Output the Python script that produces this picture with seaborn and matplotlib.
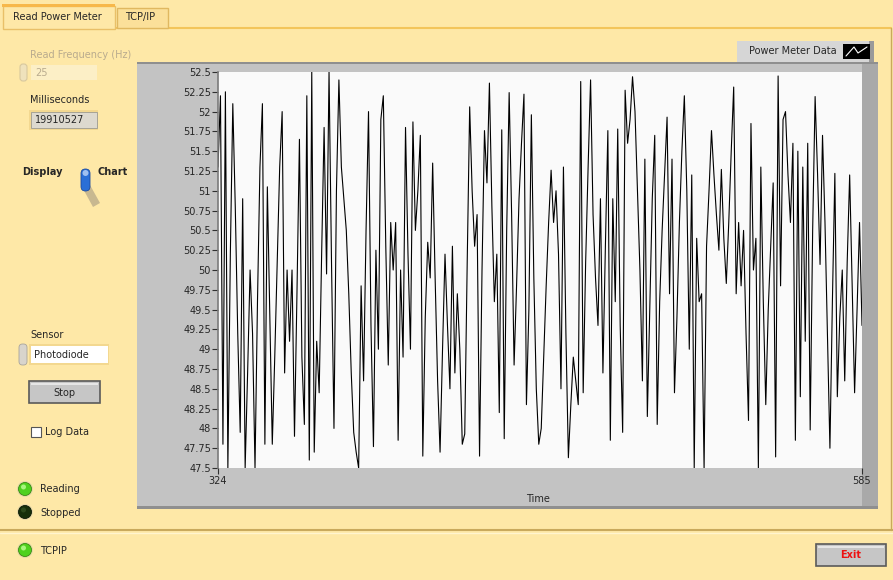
import numpy as np
import matplotlib
matplotlib.use("Agg")
import matplotlib.pyplot as plt
import seaborn as sns
from matplotlib.patches import Rectangle, Circle, FancyBboxPatch, Polygon

# -----------------------------
# DATA
# -----------------------------
t_start = 324
t_end = 585

power = [
    51.3, 52.2, 47.8, 52.25, 47.5, 50.2, 52.1, 50.8, 49.2, 47.95,
    50.9, 47.5, 48.7, 50.0, 49.2, 47.5, 49.6, 51.3, 52.1, 47.8,
    51.05, 49.4, 47.8, 48.9, 50.1, 51.3, 52.0, 48.7, 50.0, 49.1,
    50.0, 47.9, 49.7, 51.65, 48.9, 48.05, 52.2, 47.6, 52.5, 47.7,
    49.1, 48.45, 50.2, 51.8, 49.95, 52.5, 50.1, 48.0, 51.0, 52.4,
    51.3, 50.9, 50.5, 49.7, 48.7, 47.95, 47.7, 47.5, 49.8, 48.6,
    50.5, 52.0, 49.3, 47.77, 50.25, 49.0, 51.9, 52.2, 50.3, 48.8,
    50.6, 50.0, 50.6, 47.85, 50.0, 48.9, 51.8, 50.2, 49.0, 51.87,
    50.5, 51.0, 51.7, 47.65, 49.4, 50.35, 49.9, 51.35, 49.9, 48.6,
    47.7, 49.0, 50.2, 49.3, 48.5, 50.3, 48.7, 49.7, 49.0, 47.8,
    47.93, 50.1, 52.06, 51.0, 50.3, 50.7, 47.65, 50.0, 51.76, 51.1,
    52.36, 50.8, 49.6, 50.2, 48.2, 51.77, 47.87, 50.5, 52.24, 50.7,
    48.8, 49.8, 50.9, 51.6, 52.22, 48.3, 49.5, 51.96, 49.9, 48.5,
    47.8, 48.0, 48.9, 49.8, 50.6, 51.26, 50.6, 51.0, 50.2, 48.5,
    51.3, 49.2, 47.63, 48.3, 48.9, 48.6, 48.3, 52.38, 48.45, 50.1,
    51.3, 52.4, 50.7, 49.9, 49.3, 50.9, 48.7, 50.3, 51.76, 47.85,
    50.9, 49.6, 51.78, 49.3, 47.95, 52.27, 51.6, 51.9, 52.44, 52.0,
    51.0, 50.0, 48.6, 51.4, 48.15, 49.5, 50.9, 51.7, 48.05, 49.6,
    50.5, 51.2, 51.93, 49.7, 51.4, 48.45, 49.4, 50.6, 51.5, 52.2,
    51.0, 49.0, 51.2, 47.5, 50.4, 49.6, 49.7, 47.5, 50.3, 51.0,
    51.76, 51.2, 50.7, 50.25, 51.27, 50.4, 49.83, 50.6, 51.5, 52.31,
    49.7, 50.6, 49.8, 50.5, 49.2, 48.1, 51.85, 50.0, 50.4, 47.5,
    51.3, 49.6, 48.3, 49.5, 50.3, 51.1, 47.64, 52.45, 49.8, 51.9,
    52.0, 51.2, 50.6, 51.6, 47.85, 51.5, 48.4, 51.3, 49.1, 51.6,
    47.98, 50.5, 52.19, 51.2, 50.07, 51.7, 50.6, 49.2, 47.75, 49.6,
    51.22, 48.4, 49.4, 50.0, 48.6, 50.1, 51.2, 49.8, 48.45, 49.5,
    50.6, 49.3,
]
time = list(range(t_start, t_start + len(power)))

y_ticks = [47.5, 47.75, 48, 48.25, 48.5, 48.75, 49, 49.25, 49.5, 49.75,
           50, 50.25, 50.5, 50.75, 51, 51.25, 51.5, 51.75, 52, 52.25, 52.5]
y_labels = ["47.5", "47.75", "48", "48.25", "48.5", "48.75", "49", "49.25",
            "49.5", "49.75", "50", "50.25", "50.5", "50.75", "51", "51.25",
            "51.5", "51.75", "52", "52.25", "52.5"]
x_ticks = [t_start, t_end]

# -----------------------------
# STYLE
# -----------------------------
sns.set_style("white")
plt.rcParams['font.family'] = ['DejaVu Sans']
FS = 7
PANEL = "#fee8a7"
W, H = 893, 580

fig = plt.figure(figsize=(W / 100, H / 100), dpi=100)
fig.patch.set_facecolor(PANEL)

# background axes in pixel coords for the front-panel widgets
bg = fig.add_axes([0, 0, 1, 1])
bg.set_xlim(0, W)
bg.set_ylim(H, 0)
bg.axis("off")
bg.set_zorder(0)


def rect(x0, y0, x1, y1, fc, ec="none", lw=1, z=1):
    bg.add_patch(Rectangle((x0, y0), x1 - x0, y1 - y0, facecolor=fc,
                           edgecolor=ec, linewidth=lw, zorder=z))


def label(x, y, s, **kw):
    kw.setdefault("fontsize", FS)
    kw.setdefault("va", "center")
    bg.text(x, y, s, zorder=5, **kw)


def led(x, y, on=True):
    rim = "#e8d9a8"
    bg.add_patch(Circle((x, y), 8, facecolor=rim, edgecolor="none", zorder=3))
    bg.add_patch(Circle((x, y), 6.5, facecolor="#4fd11e" if on else "#16300a",
                        edgecolor="#3a8a14" if on else "#0c1a05", lw=0.6, zorder=4))
    bg.add_patch(Circle((x - 1.5, y - 2), 2.5,
                        facecolor="#a8f57e" if on else "#2c4a1c",
                        edgecolor="none", zorder=5))


# -----------------------------
# TABS & PANEL FRAME
# -----------------------------
bg.plot([0, W], [530, 530], color="#c9a95c", lw=1.5, zorder=2)
bg.plot([0, W], [532.5, 532.5], color="#fff4cf", lw=1, zorder=2)
bg.plot([115, W - 2], [28, 28], color="#f3c55a", lw=1.5, zorder=2)
bg.plot([W - 2, W - 2], [28, 530], color="#c9a95c", lw=1, zorder=2)
rect(3, 6, 115, 29, PANEL, ec="#e9c068", lw=1, z=3)
rect(2, 4, 115, 7, "#f7b84a", z=3)
rect(117, 8, 168, 28, "#fbe09a", ec="#e0b860", lw=1, z=3)
label(13, 17, "Read Power Meter")
label(125, 17, "TCP/IP")

# -----------------------------
# LEFT CONTROLS
# -----------------------------
label(30, 55, "Read Frequency (Hz)", color="#b9ab8e")
bg.add_patch(FancyBboxPatch((20, 64), 7, 17, boxstyle="round,pad=0,rounding_size=3",
                            facecolor="#efe2bc", edgecolor="#d8c89e", lw=0.8, zorder=3))
rect(31, 65, 97, 80, "#fcefc6", z=3)
label(35, 73, "25", color="#b9ab8e")

label(30, 100, "Milliseconds")
rect(29, 110, 98, 130, "#f3d890", z=3)
rect(31, 112, 97, 128, "#ddd9cf", ec="#9c9a90", lw=0.6, z=4)
label(35, 120, "19910527")

label(22, 172, "Display", fontweight="bold")
label(97, 172, "Chart", fontweight="bold")
bg.add_patch(Polygon([[81, 185], [90, 185], [100, 203], [93, 207]],
                     closed=True, facecolor="#c8b890", edgecolor="none", zorder=3))
bg.add_patch(FancyBboxPatch((81, 169), 9, 22, boxstyle="round,pad=0,rounding_size=4.5",
                            facecolor="#2a6fd6", edgecolor="#1a4aa0", lw=0.6, zorder=4))
bg.add_patch(Circle((85.5, 173), 3, facecolor="#9fc0f0", edgecolor="none", zorder=5))

label(30, 335, "Sensor")
bg.add_patch(FancyBboxPatch((19, 344), 8, 21, boxstyle="round,pad=0,rounding_size=3.5",
                            facecolor="#d8d4cc", edgecolor="#a8a49c", lw=0.6, zorder=3))
rect(29, 344, 109, 365, "#f3d890", z=3)
rect(31, 346, 108, 363, "white", z=4)
label(34, 354.5, "Photodiode")

rect(29, 381, 100, 403, "#c6c6c6", ec="#5a5a5a", lw=1.2, z=3)
rect(31, 383, 98, 385, "#e6e6e6", z=4)
label(64.5, 392.5, "Stop", ha="center")

rect(31, 427, 41, 437, "white", ec="#555555", lw=0.8, z=3)
label(45, 432, "Log Data")

led(25, 489, on=True)
label(40, 489.5, "Reading")
led(25, 512, on=False)
label(40, 512.5, "Stopped")
led(25, 550, on=True)
label(40, 550.5, "TCPIP")

rect(816, 544, 886, 566, "#c6c6c6", ec="#5a5a5a", lw=1.2, z=3)
rect(818, 546, 884, 548, "#e6e6e6", z=4)
label(851, 555.5, "Exit", ha="center", color="#ee1111", fontweight="bold")

# -----------------------------
# GRAPH FRAME & LEGEND
# -----------------------------
rect(137, 62, 878, 508, "#c3c3c3", z=1)
rect(862, 62, 878, 508, "#a9a9a9", z=1)
rect(137, 506, 878, 509, "#8f8f8f", z=1)
rect(137, 62, 878, 64, "#8f8f8f", z=1)
rect(737, 41, 873, 62, "#d6d6d6", z=1)
rect(869, 41, 874, 62, "#9a9a9a", z=2)
label(749, 51.5, "Power Meter Data")
rect(843, 44, 870, 59, "black", z=3)
bg.plot([846, 854, 858, 867], [56, 47, 53, 47], color="white", lw=0.8, zorder=4)
label(538, 498.5, "Time", ha="center")

# -----------------------------
# DATA PLOT
# -----------------------------
ax = fig.add_axes([218 / W, 1 - 468 / H, 644 / W, 396 / H])
ax.set_zorder(1)
ax.set_facecolor("#fafafa")
sns.lineplot(x=time, y=power, ax=ax, color="black", linewidth=0.8)
ax.set_xlim(t_start, t_end)
ax.set_ylim(47.5, 52.5)
ax.set_yticks(y_ticks)
ax.set_yticklabels(y_labels)
ax.set_xticks(x_ticks)
ax.set_xticklabels([str(v) for v in x_ticks])
ax.set_xlabel("")
ax.set_ylabel("")
ax.tick_params(axis="both", labelsize=FS, length=4, width=0.8,
               color="#303030", pad=1)
ax.tick_params(axis="y", left=True, direction="out")
ax.tick_params(axis="x", bottom=True, direction="out", pad=2)
for side in ["top", "right", "bottom", "left"]:
    ax.spines[side].set_visible(False)
ax.spines["left"].set_visible(True)
ax.spines["left"].set_color("#7a7a7a")
ax.spines["left"].set_linewidth(1.2)

fig.savefig("out.png", dpi=100, facecolor=fig.get_facecolor())
